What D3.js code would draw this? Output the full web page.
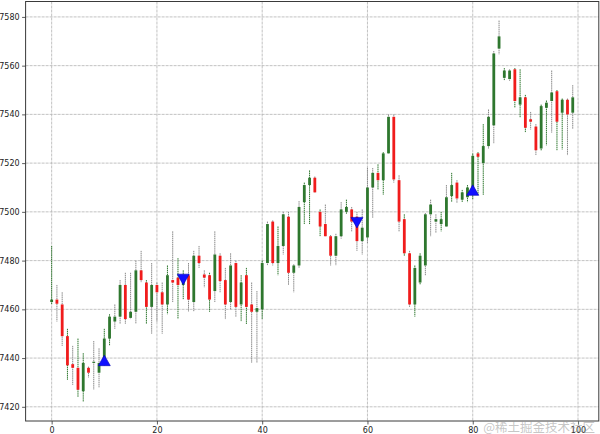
<!DOCTYPE html>
<html>
<head>
<meta charset="utf-8">
<script src="https://cdn.jsdelivr.net/npm/d3@7/dist/d3.min.js"></script>
<style>
  html, body { margin: 0; padding: 0; background: #fff; }
  svg { display: block; }
</style>
</head>
<body>
<svg id="chart" width="600" height="434"></svg>
<script>
// ---- data ----
const opens = [
  7463,7464,7462,7449,7437.5,7436,7426.4,7436,7438,7434,7438,7448,7455,7457,7470,7456.5,7459,7476,7471,7461,
  7470,7467,7462,7472,7473,7470,7474,7463,7482,7474.3,7474,7467.5,7482,7472,7463,7479,7462,7474,7462,7459,
  7460,7479,7496,7479,7486,7498,7475,7478,7504,7511,7514,7500,7495,7490,7482,7490,7500,7501,7498,7488,
  7489.5,7510,7516,7513,7524,7539,7513,7497,7483,7462,7471,7478,7499,7496,7495,7494,7506.5,7512,7505,7506,
  7507,7524,7520,7527,7535.5,7567,7555,7554.5,7558.5,7544,7547,7538,7535,7526,7542.7,7545.5,7549.5,7540.7,7546,7540.7
];
const closes = [
  7464,7462.3,7449,7437,7436,7427,7438,7434,7438.5,7438,7448,7457,7457,7470,7456,7459,7476,7472,7461,7470,
  7467,7462,7474,7471,7470,7473,7464,7482,7479,7473,7464,7482.5,7471.6,7462,7478,7461,7471,7461,7459,7460.5,
  7479,7495,7479,7486,7499,7475,7478,7502,7511,7514,7508,7494,7490,7482,7490,7501,7502,7496,7488,7493.5,
  7510,7516,7513,7524,7539,7513.3,7496,7483,7462,7477,7482,7499,7503,7497,7497,7506,7511,7505.5,7508,7510,
  7523,7522.6,7527,7539,7565,7572,7558,7558,7545.5,7547,7534.5,7537,7525.3,7543.4,7544.8,7549,7537,7546,7540,7547
];
const highs = [
  7486,7470,7467,7452,7445,7448,7442,7436.5,7447,7444,7452,7458,7462,7472,7475,7475,7480,7484,7472,7479,
  7471,7471,7478,7492,7481,7476,7479,7484,7486,7476,7475,7492,7483,7477,7483,7480,7474,7477,7471,7467.5,
  7480,7496,7496.5,7494,7500,7500,7478.5,7504.4,7512,7517,7514.5,7501,7503,7490.5,7491,7504,7505,7502,7500,7501,
  7518,7518,7519.5,7524.5,7540,7540,7515,7499,7484,7478,7483,7499.5,7505,7499,7500,7511,7516,7513,7509,7511,
  7524,7524.5,7536,7542,7566,7578.5,7559,7558.5,7559,7558.5,7548,7541,7536,7544,7545.7,7558,7550,7546.5,7546.5,7552
];
const lows = [
  7462,7455,7445,7431,7429,7424,7422,7432,7427,7428,7437,7445,7452,7454,7454,7456,7454,7471,7454,7450,
  7455,7450,7458,7463,7456,7464,7459,7459,7477,7469,7459,7463,7467,7456,7460,7457,7455,7454,7438,7438,
  7456,7478,7478,7474,7482.5,7470,7467,7477,7495,7495,7508,7490,7490,7478,7478,7489,7499,7492,7484,7482.5,
  7487,7497.6,7509,7507,7524,7512,7492,7482,7461,7457,7470,7474,7490,7491.5,7492,7494,7504,7503.7,7504,7504,
  7505,7507,7507,7526,7528,7564.6,7554,7553.8,7542.7,7538.6,7532.5,7533.8,7523.3,7525,7527.3,7532.5,7525.3,7525.6,7523.2,7534
];
// wick category (1 = green wick, 0 = grey wick)
const wickCat = [
  1,0,0,1,0,1,1,0,0,0,1,1,0,0,0,0,0,0,1,0,
  0,0,1,0,1,1,0,0,0,0,1,0,0,0,0,0,1,1,0,0,
  1,0,0,1,0,0,0,0,1,1,0,1,0,0,0,0,1,0,0,0,
  0,0,1,1,0,0,0,1,0,1,1,0,0,0,1,0,1,0,1,1,
  1,1,1,0,0,0,1,0,1,1,1,0,0,1,1,0,1,1,0,0
];
const buyIdx = [10, 80];
const buyPrice = [7438.6, 7508.5];
const sellIdx = [25, 58];
const sellPrice = [7472.7, 7496];
const xTicks = [0, 20, 40, 60, 80, 100];
const yTicks = [7420, 7440, 7460, 7480, 7500, 7520, 7540, 7560, 7580];

// ---- layout ----
const plot = { left: 25.6, right: 598.8, top: 1.5, bottom: 421 };
const svg = d3.select('#chart');

const n = opens.length;
const xPad = (n - 1) * 0.05;
const x = d3.scaleLinear().domain([-xPad, (n - 1) + xPad]).range([plot.left, plot.right]);
const lo = d3.min(lows), hi = d3.max(highs);
const yPad = (hi - lo) * 0.05;
const y = d3.scaleLinear().domain([lo - yPad, hi + yPad]).range([plot.bottom, plot.top]);

const data = opens.map((o, i) => ({ i, o, c: closes[i], h: highs[i], l: lows[i], w: wickCat[i] }));

const GREEN = '#2e772e', RED = '#f01c1c', GREY = '#8a8a8a';

// grid
const grid = svg.append('g');
grid.selectAll('line.gx').data(xTicks).join('line')
  .attr('x1', d => x(d)).attr('x2', d => x(d))
  .attr('y1', plot.top).attr('y2', plot.bottom)
  .attr('stroke', '#b4b4b4').attr('stroke-width', 0.8).attr('stroke-dasharray', '3,1');
grid.selectAll('line.gy').data(yTicks).join('line')
  .attr('x1', plot.left).attr('x2', plot.right)
  .attr('y1', d => y(d)).attr('y2', d => y(d))
  .attr('stroke', '#b4b4b4').attr('stroke-width', 0.8).attr('stroke-dasharray', '3,1');

// wicks
svg.append('g').selectAll('line').data(data).join('line')
  .attr('x1', d => x(d.i)).attr('x2', d => x(d.i))
  .attr('y1', d => y(d.h)).attr('y2', d => y(d.l))
  .attr('stroke', d => d.w ? GREEN : GREY)
  .attr('stroke-width', 1)
  .attr('stroke-dasharray', '1.5,0.6');

// bodies
const bw = 2.8;
svg.append('g').selectAll('rect').data(data).join('rect')
  .attr('x', d => x(d.i) - bw / 2)
  .attr('width', bw)
  .attr('y', d => y(Math.max(d.o, d.c)))
  .attr('height', d => Math.max(1, Math.abs(y(d.o) - y(d.c))))
  .attr('fill', d => d.c >= d.o ? GREEN : RED);

// signals
const triW = 12, triH = 10.5;
const up = `M0,${-triH*0.6} L${triW/2},${triH*0.4} L${-triW/2},${triH*0.4} Z`;
const down = `M0,${triH*0.6} L${triW/2},${-triH*0.4} L${-triW/2},${-triH*0.4} Z`;
svg.append('g').selectAll('path').data(buyIdx.map((b, k) => ({ i: b, p: buyPrice[k] }))).join('path')
  .attr('d', up).attr('transform', d => `translate(${x(d.i)},${y(d.p)})`)
  .attr('fill', '#1010ff').attr('stroke', '#0000b0').attr('stroke-width', 0.6);
svg.append('g').selectAll('path').data(sellIdx.map((b, k) => ({ i: b, p: sellPrice[k] }))).join('path')
  .attr('d', down).attr('transform', d => `translate(${x(d.i)},${y(d.p)})`)
  .attr('fill', '#1010ff').attr('stroke', '#0000b0').attr('stroke-width', 0.6);

// axes
const xAxis = d3.axisBottom(x).tickValues(xTicks).tickSize(3.5).tickPadding(2.5).tickFormat(d3.format('d'));
const yAxis = d3.axisLeft(y).tickValues(yTicks).tickSize(3.5).tickPadding(2.5).tickFormat(d3.format('d'));
const gx = svg.append('g').attr('transform', `translate(0,${plot.bottom})`).call(xAxis);
const gy = svg.append('g').attr('transform', `translate(${plot.left},0)`).call(yAxis);
[gx, gy].forEach(g => {
  g.select('.domain').remove();
  g.selectAll('line').attr('stroke', '#333').attr('stroke-width', 0.8);
  g.selectAll('text').attr('fill', '#222').style('font-family', 'DejaVu Sans, sans-serif').style('font-size', '8px');
});

// frame
svg.append('rect')
  .attr('x', plot.left).attr('y', plot.top)
  .attr('width', plot.right - plot.left).attr('height', plot.bottom - plot.top)
  .attr('fill', 'none').attr('stroke', '#3a3a3a').attr('stroke-width', 1);

// watermark
svg.append('text')
  .attr('x', 595).attr('y', 432)
  .attr('text-anchor', 'end')
  .attr('fill', 'rgba(150,150,150,0.55)')
  .style('font-family', '"Noto Sans CJK SC", sans-serif')
  .style('font-size', '12.5px')
  .text('@稀土掘金技术社区');
</script>
</body>
</html>
